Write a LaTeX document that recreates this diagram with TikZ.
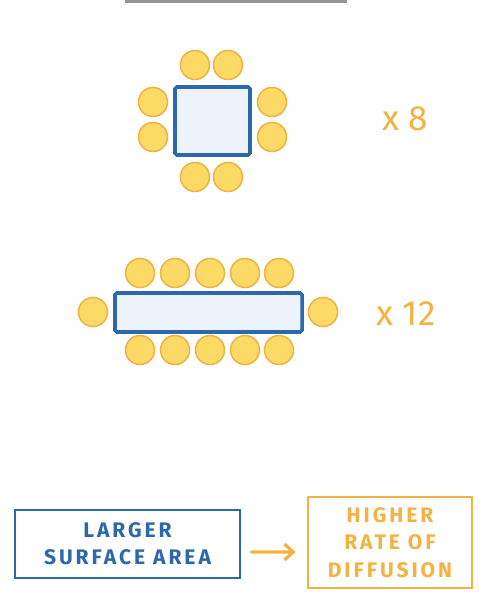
\documentclass[tikz,border=0pt]{standalone}
\usepackage{fontspec}
\setmainfont{Fira Sans}
\usetikzlibrary{arrows.meta}

\definecolor{cellblue}{RGB}{44,104,172}
\definecolor{cellfill}{RGB}{236,243,252}
\definecolor{beadfill}{RGB}{253,218,102}
\definecolor{beadline}{RGB}{238,180,72}
\definecolor{orangeink}{RGB}{244,178,66}
\definecolor{rulegray}{RGB}{150,150,150}

\tikzset{
    bead/.style={fill=beadfill,draw=beadline,line width=0.9pt},
    cell/.style={draw=cellblue,fill=cellfill,line width=2pt,rounded corners=1pt},
    count/.style={text=orangeink,font=\fontsize{20}{24}\selectfont},
    tag/.style={align=center,line width=1.6pt,inner sep=0pt,
        font=\fontsize{12}{15.5}\selectfont\bfseries\addfontfeature{LetterSpace=14}},
    flow/.style={draw=orangeink,line width=1.8pt,line cap=round,
        -{Straight Barb[length=5pt,width=9pt]}}
}

\begin{document}
\begin{tikzpicture}[x=0.02cm,y=-0.02cm]

\useasboundingbox (0,0) rectangle (480,597);

% Top rule
\draw[rulegray,line width=1.8pt] (125,1.5) -- (347,1.5);

% Square cell
\draw[cell] (175,87) rectangle (250,155);

\foreach \x in {195,228}
{
    \draw[bead] (\x,65) circle [radius=0.29cm];
    \draw[bead] (\x,177) circle [radius=0.29cm];
}
\foreach \y in {102,137}
{
    \draw[bead] (153,\y) circle [radius=0.29cm];
    \draw[bead] (272,\y) circle [radius=0.29cm];
}

\node[count] (eight) at (405,119) {x 8};

% Long cell
\draw[cell] (115,293) rectangle (302,332);

\foreach \x in {140,175,210,245,279}
{
    \draw[bead] (\x,273) circle [radius=0.29cm];
    \draw[bead] (\x,350) circle [radius=0.29cm];
}
\draw[bead] (93,312) circle [radius=0.29cm];
\draw[bead] (323,312) circle [radius=0.29cm];

\node[count] (twelve) at (406,314) {x 12};

% Conclusion
\node[tag,draw=cellblue,text=cellblue,minimum width=4.5cm,minimum height=1.36cm]
    (surface) at (127.5,544) {LARGER\\SURFACE AREA};
\node[tag,draw=orangeink,text=orangeink,minimum width=3.28cm,minimum height=1.82cm]
    (rate) at (390,542.5) {HIGHER\\RATE OF\\DIFFUSION};

\draw[flow,shorten <=0.2cm,shorten >=0.22cm]
    ([yshift=-0.16cm]surface.east) -- ([yshift=-0.19cm]rate.west);

\end{tikzpicture}
\end{document}
